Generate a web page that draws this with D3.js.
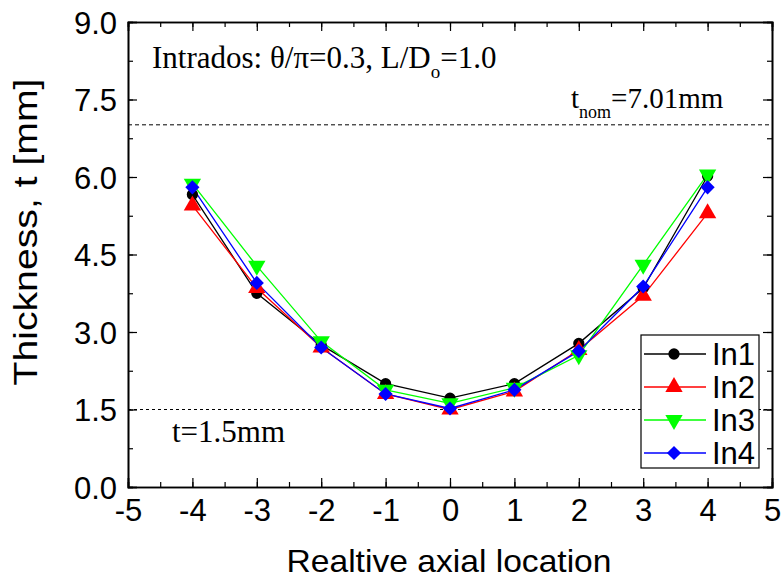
<!DOCTYPE html>
<html><head><meta charset="utf-8">
<script src="https://cdn.jsdelivr.net/npm/d3@7/dist/d3.min.js"></script>
<style>body{margin:0;background:#fff}svg{display:block}</style>
</head><body>
<svg id="c" width="783" height="582"></svg>
<script>
const xPos = [-4, -3, -2, -1, 0, 1, 2, 3, 4];
const seriesNames = ["In1", "In2", "In3", "In4"];
const in1 = [5.66, 3.75, 2.75, 2.00, 1.72, 2.00, 2.78, 3.85, 6.02];
const in2 = [5.45, 3.85, 2.70, 1.80, 1.50, 1.85, 2.65, 3.70, 5.30];
const in3 = [5.87, 4.28, 2.82, 1.88, 1.62, 1.92, 2.55, 4.30, 6.05];
const in4 = [5.80, 3.95, 2.70, 1.80, 1.52, 1.88, 2.63, 3.88, 5.80];
const xTicks = [-5, -4, -3, -2, -1, 0, 1, 2, 3, 4, 5];
const yTicks = [0, 1.5, 3.0, 4.5, 6.0, 7.5, 9.0];
const tNom = 7.01, tMin = 1.5;

const colors = ["#000000", "#ff0000", "#00ff00", "#0000ff"];
const shapes = ["circle", "up", "down", "diamond"];
const data = [in1, in2, in3, in4];

const svg = d3.select("#c");
const L = 128, R = 772, T = 22, B = 487;
const x = d3.scaleLinear().domain([-5, 5]).range([L, R]);
const y = d3.scaleLinear().domain([0, 9]).range([B, T]);
const sans = "'Liberation Sans', Arial, sans-serif";
const serif = "'Liberation Serif', 'Times New Roman', serif";

// reference dashed lines
svg.append("line").attr("x1", L).attr("x2", R).attr("y1", y(tNom)).attr("y2", y(tNom))
  .attr("stroke", "#000").attr("stroke-width", 1).attr("stroke-dasharray", "4,3");
svg.append("line").attr("x1", L).attr("x2", R).attr("y1", y(tMin)).attr("y2", y(tMin))
  .attr("stroke", "#000").attr("stroke-width", 1).attr("stroke-dasharray", "3,3");

// axes
const xMinor = d3.range(-5, 5.01, 0.5);
const yMinor = d3.range(0, 9.01, 0.75);
svg.append("g").attr("transform", `translate(0,${B})`)
  .call(d3.axisBottom(x).tickValues(xTicks).tickSize(-9).tickPadding(12).tickFormat(d => String(d)));
svg.append("g").attr("transform", `translate(0,${T})`)
  .call(d3.axisTop(x).tickValues(xTicks).tickSize(-9).tickFormat(""));
const gL = svg.append("g").attr("transform", `translate(${L},0)`)
  .call(d3.axisLeft(y).tickValues(yTicks).tickSize(-9).tickPadding(11).tickFormat(d3.format(".1f")));
svg.append("g").attr("transform", `translate(${R},0)`)
  .call(d3.axisRight(y).tickValues(yTicks).tickSize(-9).tickFormat(""));
svg.append("g").attr("transform", `translate(0,${B})`)
  .call(d3.axisBottom(x).tickValues(xMinor).tickSize(-5).tickFormat(""));
svg.append("g").attr("transform", `translate(0,${T})`)
  .call(d3.axisTop(x).tickValues(xMinor).tickSize(-5).tickFormat(""));
svg.append("g").attr("transform", `translate(${L},0)`)
  .call(d3.axisLeft(y).tickValues(yMinor).tickSize(-5).tickFormat(""));
svg.append("g").attr("transform", `translate(${R},0)`)
  .call(d3.axisRight(y).tickValues(yMinor).tickSize(-5).tickFormat(""));
svg.selectAll(".domain").attr("stroke", "#000").attr("stroke-width", 1.6);
svg.selectAll(".tick line").attr("stroke", "#000").attr("stroke-width", 1.2);
svg.selectAll(".tick text").attr("font-family", sans).attr("font-size", 31).attr("fill", "#000");
gL.selectAll(".tick text").attr("dy", "0.36em");

// axis titles
svg.append("text").attr("x", 449).attr("y", 572).attr("text-anchor", "middle")
  .attr("font-family", sans).attr("font-size", 32)
  .attr("textLength", 325).attr("lengthAdjust", "spacingAndGlyphs")
  .text("Realtive axial location");
svg.append("text").attr("transform", "translate(37,232) rotate(-90)").attr("text-anchor", "middle")
  .attr("font-family", sans).attr("font-size", 33)
  .attr("textLength", 307).attr("lengthAdjust", "spacingAndGlyphs")
  .text("Thickness, t [mm]");

// annotations
const a1 = svg.append("text").attr("x", 152).attr("y", 68).attr("font-family", serif).attr("font-size", 31);
a1.append("tspan").text("Intrados: θ/π=0.3, L/D");
a1.append("tspan").attr("font-size", 19).attr("dy", 10).text("o");
a1.append("tspan").attr("dy", -10).text("=1.0");
const a2 = svg.append("text").attr("x", 571).attr("y", 108).attr("font-family", serif).attr("font-size", 29);
a2.append("tspan").text("t");
a2.append("tspan").attr("font-size", 18).attr("dy", 10).text("nom");
a2.append("tspan").attr("dy", -10).text("=7.01mm");
svg.append("text").attr("x", 172).attr("y", 442).attr("font-family", serif).attr("font-size", 31).text("t=1.5mm");

// series
function sym(i) {
  const s = shapes[i];
  if (s === "circle") return d3.symbol().type(d3.symbolCircle).size(100)();
  if (s === "up" || s === "down") return d3.symbol().type(d3.symbolTriangle).size(130)();
  return d3.symbol().type(d3.symbolSquare).size(100)();
}
function rot(i) {
  return shapes[i] === "down" ? " rotate(180)" : shapes[i] === "diamond" ? " rotate(45)" : "";
}
data.forEach((vals, i) => {
  const pts = xPos.map((xv, j) => [xv, vals[j]]);
  svg.append("path").datum(pts)
    .attr("d", d3.line().x(d => x(d[0])).y(d => y(d[1])))
    .attr("fill", "none").attr("stroke", colors[i]).attr("stroke-width", 1.3);
});
data.forEach((vals, i) => {
  svg.append("g").selectAll("path").data(xPos.map((xv, j) => [xv, vals[j]])).join("path")
    .attr("d", sym(i))
    .attr("transform", d => `translate(${x(d[0])},${y(d[1])})` + rot(i))
    .attr("fill", colors[i]);
});

// legend
const lg = svg.append("g");
lg.append("rect").attr("x", 641).attr("y", 335).attr("width", 118).attr("height", 133)
  .attr("fill", "#fff").attr("stroke", "#000").attr("stroke-width", 1.2);
seriesNames.forEach((n, i) => {
  const yy = 354 + i * 33;
  lg.append("line").attr("x1", 644).attr("x2", 706).attr("y1", yy).attr("y2", yy)
    .attr("stroke", colors[i]).attr("stroke-width", 1.3);
  lg.append("path").attr("d", sym(i))
    .attr("transform", `translate(674,${yy})` + rot(i))
    .attr("fill", colors[i]);
  lg.append("text").attr("x", 712).attr("y", yy).attr("dy", "0.36em")
    .attr("font-family", sans).attr("font-size", 31).text(n);
});
</script>
</body></html>
